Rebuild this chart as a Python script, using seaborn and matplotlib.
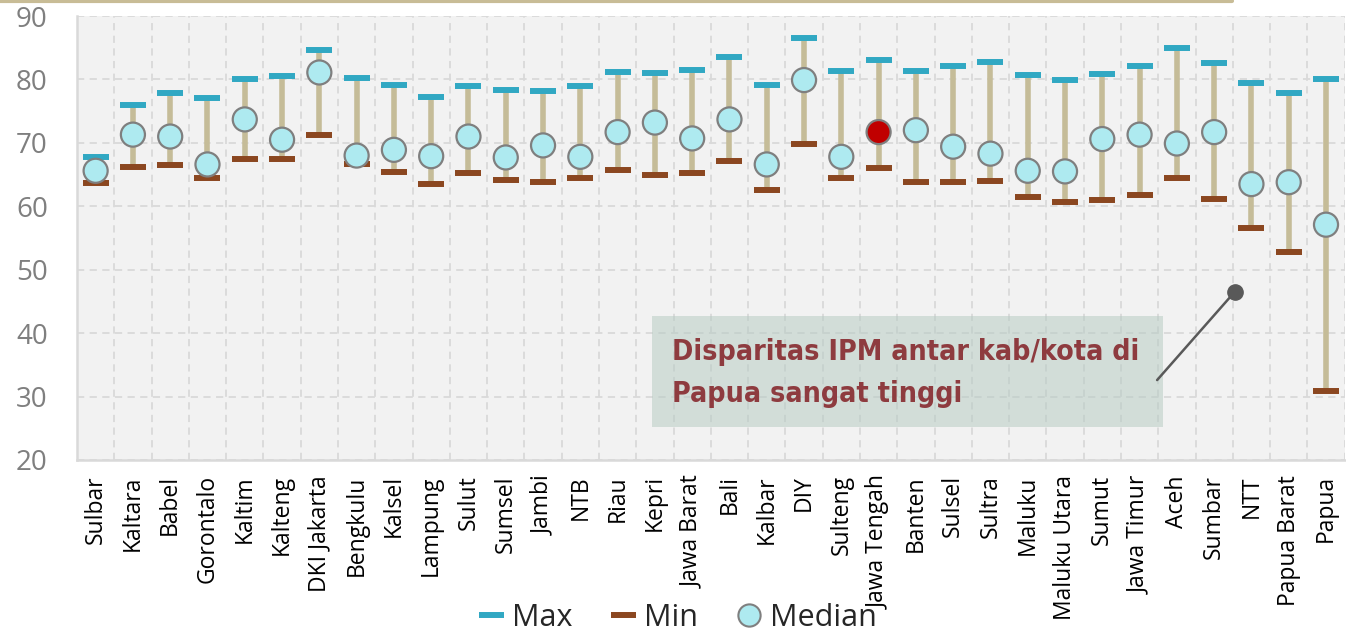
import numpy as np
import pandas as pd
import matplotlib
matplotlib.use("Agg")
import matplotlib.pyplot as plt
import seaborn as sns
from matplotlib.lines import Line2D
from matplotlib.patches import Rectangle

# ================= DATA =================
regions = ["Sulbar", "Kaltara", "Babel", "Gorontalo", "Kaltim", "Kalteng", "DKI Jakarta",
           "Bengkulu", "Kalsel", "Lampung", "Sulut", "Sumsel", "Jambi", "NTB", "Riau",
           "Kepri", "Jawa Barat", "Bali", "Kalbar", "DIY", "Sulteng", "Jawa Tengah",
           "Banten", "Sulsel", "Sultra", "Maluku", "Maluku Utara", "Sumut", "Jawa Timur",
           "Aceh", "Sumbar", "NTT", "Papua Barat", "Papua"]
max_vals = [67.7, 76.0, 77.9, 77.0, 80.1, 80.6, 84.6, 80.3, 79.1, 77.2, 79.0, 78.3,
            78.1, 79.0, 81.2, 81.0, 81.5, 83.6, 79.2, 86.5, 81.4, 83.1, 81.4, 82.1,
            82.7, 80.7, 79.9, 80.9, 82.1, 85.0, 82.6, 79.4, 77.9, 80.1]
min_vals = [63.7, 66.2, 66.5, 64.4, 67.5, 67.5, 71.3, 66.6, 65.4, 63.5, 65.2, 64.2,
            63.8, 64.4, 65.8, 64.9, 65.3, 67.2, 62.6, 69.8, 64.4, 66.0, 63.8, 63.9,
            64.0, 61.5, 60.6, 61.0, 61.8, 64.4, 61.2, 56.6, 52.8, 30.8]
median_vals = [65.6, 71.3, 71.0, 66.6, 73.7, 70.5, 81.1, 68.0, 68.9, 67.9, 71.0, 67.7,
               69.6, 67.8, 71.7, 73.2, 70.7, 73.7, 66.6, 79.9, 67.8, 71.7, 72.0, 69.4,
               68.3, 65.6, 65.5, 70.6, 71.3, 69.9, 71.7, 63.5, 63.8, 57.1]
highlight = "Jawa Tengah"

note_text = "Disparitas IPM antar kab/kota di\nPapua sangat tinggi"

# ================= COLORS =================
C_MAX = "#31a8c3"
C_MIN = "#8b4720"
C_RANGE = "#c5bc98"
C_MED = "#aeeaf0"
C_MED_EDGE = "#7f7f7f"
C_RED = "#c00000"
C_GRID = "#d9d9d9"

df = pd.DataFrame({"region": regions, "max": max_vals, "min": min_vals, "median": median_vals})
df["pos"] = np.arange(len(df))

sns.set_style("white")
plt.rcParams["font.family"] = ["Open Sans", "DejaVu Sans"]

fig = plt.figure(figsize=(13.46, 6.41), dpi=100)
ax = fig.add_axes([0.0572, 0.2824, 0.9418, 0.6926])
ax.set_facecolor("#f2f2f2")

# range lines
ax.vlines(df["pos"], df["min"], df["max"], color=C_RANGE, linewidth=4, zorder=2)

# max / min dashes
sns.scatterplot(data=df, x="pos", y="max", marker="_", s=350, color=C_MAX,
                linewidth=4.3, ax=ax, zorder=3, legend=False)
sns.scatterplot(data=df, x="pos", y="min", marker="_", s=350, color=C_MIN,
                linewidth=4.3, ax=ax, zorder=3, legend=False)

# medians
med_colors = [C_RED if r == highlight else C_MED for r in df["region"]]
ax.scatter(df["pos"], df["median"], s=300, c=med_colors, edgecolors=C_MED_EDGE,
           linewidths=1.6, zorder=4)

# axes styling
ax.set_xlim(-0.5, len(regions) - 0.5)
ax.set_ylim(20, 90)
ax.set_yticks(np.arange(20, 91, 10))
ax.set_xticks(df["pos"])
ax.set_xticklabels(regions, rotation=90, fontsize=16.5, color="black")
ax.set_xticks(np.arange(len(regions)) + 0.5, minor=True)
ax.tick_params(axis="x", which="major", length=0, pad=11)
ax.tick_params(axis="x", which="minor", length=6, width=1.3, color=C_GRID)
ax.tick_params(axis="y", length=7, width=1.3, color=C_GRID, pad=14,
               labelsize=20, labelcolor="#7f7f7f")
ax.set_xlabel("")
ax.set_ylabel("")

ax.set_axisbelow(True)
ax.grid(axis="y", which="major", color=C_GRID, linestyle=(0, (4, 3)), linewidth=1.3)
ax.grid(axis="x", which="minor", color=C_GRID, linestyle=(0, (4, 3)), linewidth=1.3)
ax.grid(axis="x", which="major", visible=False)

for side in ["top", "right"]:
    ax.spines[side].set_visible(False)
for side in ["left", "bottom"]:
    ax.spines[side].set_color(C_GRID)
    ax.spines[side].set_linewidth(1.8)

# annotation box
ax.add_patch(Rectangle((14.93, 25.2), 13.7, 17.5, facecolor="#b8ccc4", alpha=0.55,
                       edgecolor="none", zorder=1.5))
ax.text(15.47, 33.7, note_text, fontsize=20.5, color="#8e3b3f", va="center", ha="left",
        family="DejaVu Sans", fontstretch="condensed", fontweight="bold",
        linespacing=1.6, zorder=5)
ax.annotate("", xy=(30.55, 46.5), xytext=(28.47, 32.6),
            arrowprops=dict(arrowstyle="-", color="#595959", lw=1.8, shrinkA=0, shrinkB=0),
            zorder=5)
ax.plot([30.55], [46.5], marker="o", markersize=11, color="#595959", zorder=5)

# legend
handles = [
    Line2D([], [], linestyle="none", marker="_", markersize=18, markeredgewidth=4.3, color=C_MAX),
    Line2D([], [], linestyle="none", marker="_", markersize=18, markeredgewidth=4.3, color=C_MIN),
    Line2D([], [], linestyle="none", marker="o", markersize=16, markerfacecolor=C_MED,
           markeredgecolor=C_MED_EDGE, markeredgewidth=1.5),
]
fig.legend(handles, ["Max", "Min", "Median"], loc="center", bbox_to_anchor=(0.503, 0.036),
           ncol=3, frameon=False, fontsize=22, handlelength=0.9, handletextpad=0.25,
           columnspacing=1.2, borderaxespad=0)

# decorative top rule
fig.add_artist(Line2D([0, 0.915], [0.998, 0.998], color="#c8bc96", linewidth=3,
                      transform=fig.transFigure))

fig.savefig("out.png", dpi=100)
